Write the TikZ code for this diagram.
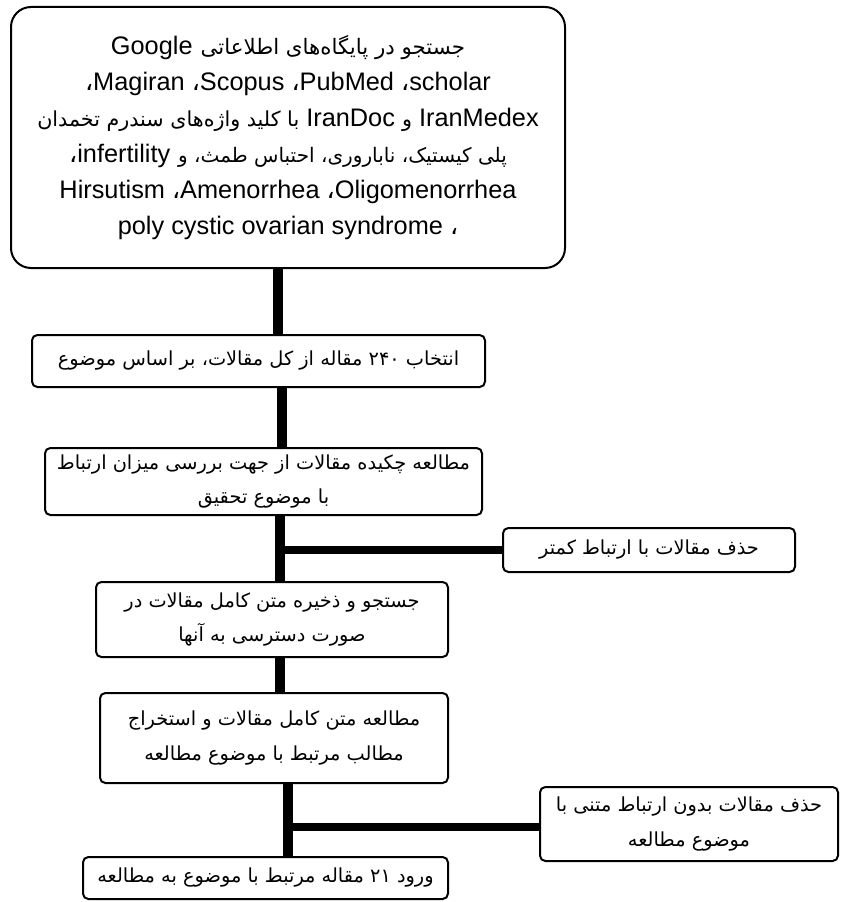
\documentclass[tikz,border=0pt]{standalone}
\usepackage{fontspec}
\setmainfont{Liberation Sans}
\newfontfamily\fa[Script=Arabic]{DejaVu Sans}
\TeXXeTstate=1
\newcommand\per[1]{\raisebox{-2pt}{\fa\beginR #1\endR}}
\newcommand\tper[1]{{\fa\beginR #1\endR}}
\newcommand\fc{{\fa ،}}
\begin{document}
\begin{tikzpicture}[x=0.75pt,y=-0.75pt,
  box/.style={draw=black, line width=1.5pt, rounded corners=4pt, fill=white,
    inner sep=0pt, align=center, font=\fontsize{14.5}{26}\selectfont},
  topbox/.style={box, rounded corners=15pt, font=\fontsize{19}{27}\selectfont},
  conn/.style={line width=7.5pt, black},
  branch/.style={line width=6.5pt, black}]
\useasboundingbox (0,0) rectangle (842,902);

\node[topbox, minimum width=415.5pt, minimum height=195.75pt] (top) at (288,137.5)
 {Google\hspace{6pt}{\fontsize{16}{27}\selectfont\tper{جستجو در پایگاه‌های اطلاعاتی}}\\
  \fc Magiran \fc Scopus \fc PubMed \fc scholar\\
  {\fontsize{15.5}{27}\selectfont\tper{با کلید واژه‌های سندرم تخمدان}} IranDoc {\fontsize{15.5}{27}\selectfont\fa و} IranMedex\\
  \fc infertility\hspace{6pt}{\fontsize{15}{27}\selectfont\tper{پلی کیستیک، ناباروری، احتباس طمث، و}}\\
  Hirsutism \fc Amenorrhea \fc Oligomenorrhea\\
  poly cystic ovarian syndrome \fc};

\node[box, minimum width=339.75pt, minimum height=39pt] (b2) at (258.5,361)
 {\per{انتخاب ۲۴۰ مقاله از کل مقالات، بر اساس موضوع}};
\node[box, minimum width=327.75pt, minimum height=50.25pt] (b3) at (263.5,481.5)
 {\per{مطالعه چکیده مقالات از جهت بررسی میزان ارتباط}\\\per{با موضوع تحقیق}};
\node[box, minimum width=219pt, minimum height=33pt] (s1) at (649,550)
 {\per{حذف مقالات با ارتباط کمتر}};
\node[box, minimum width=264pt, minimum height=56.25pt] (b4) at (272,619.5)
 {\per{جستجو و ذخیره متن کامل مقالات در}\\\per{صورت دسترسی به آنها}};
\node[box, minimum width=261pt, minimum height=67.5pt] (b5) at (274,738)
 {\per{مطالعه متن کامل مقالات و استخراج}\\\per{مطالب مرتبط با موضوع مطالعه}};
\node[box, minimum width=223.5pt, minimum height=55.5pt] (s2) at (689,824)
 {\per{حذف مقالات بدون ارتباط متنی با}\\\per{موضوع مطالعه}};
\node[box, minimum width=273.75pt, minimum height=31.5pt] (b6) at (265.5,878)
 {\per{ورود ۲۱ مقاله مرتبط با موضوع به مطالعه}};

\coordinate (k1) at (278,0);
\coordinate (k2) at (282,0);
\coordinate (k3) at (280,0);
\coordinate (k4) at (280,0);
\coordinate (k5) at (288,0);

\draw[conn] (k1 |- top.south) -- (k1 |- b2.north);
\draw[conn] (k2 |- b2.south) -- (k2 |- b3.north);
\draw[conn] (k3 |- b3.south) -- (k3 |- b4.north);
\draw[branch] (k3 |- s1.west) -- (s1.west);
\draw[conn] (k4 |- b4.south) -- (k4 |- b5.north);
\draw[conn] (k5 |- b5.south) -- (k5 |- b6.north);
\draw[branch] ([yshift=-2.25pt]k5 |- s2.west) -- ([yshift=-2.25pt]s2.west);
\end{tikzpicture}
\end{document}
